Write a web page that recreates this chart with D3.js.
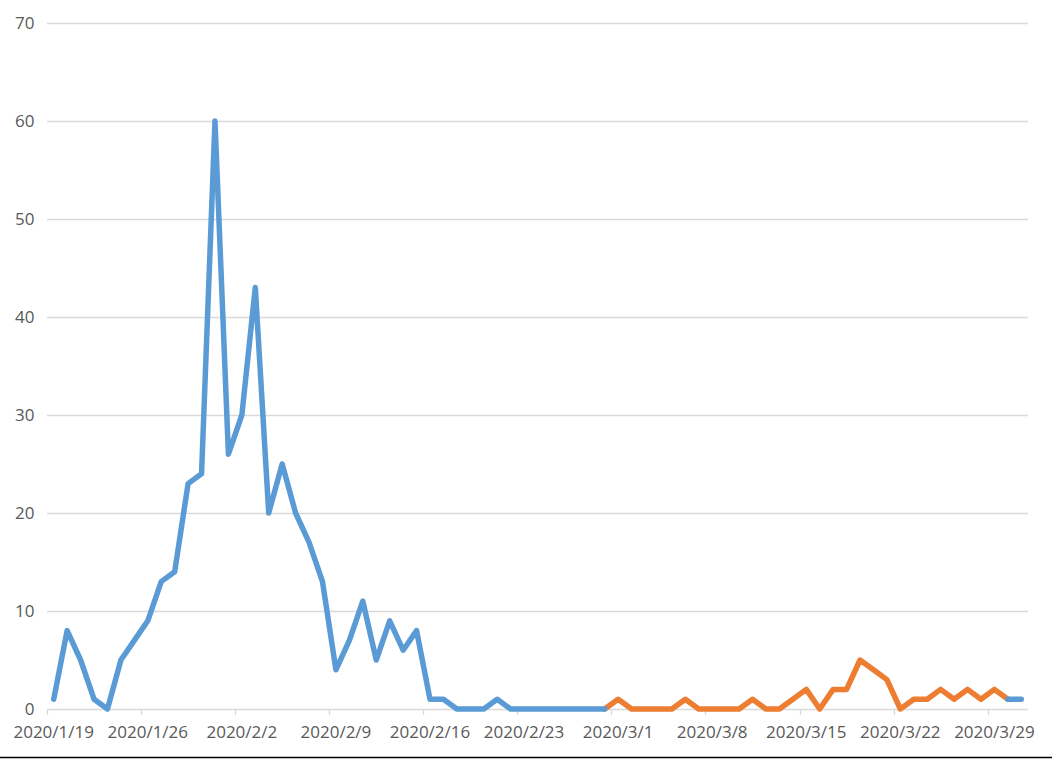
<!DOCTYPE html>
<html>
<head>
<meta charset="utf-8">
<script src="https://cdn.jsdelivr.net/npm/d3@7"></script>
<style>
  html, body { margin: 0; padding: 0; background: #fff; }
  svg { display: block; }
  text { font-family: "Open Sans", "Noto Sans", sans-serif; fill: #595959; }
</style>
</head>
<body>
<svg id="chart" width="1052" height="760"></svg>
<script>
const categories = [
  "2020/1/19","2020/1/20","2020/1/21","2020/1/22","2020/1/23","2020/1/24","2020/1/25",
  "2020/1/26","2020/1/27","2020/1/28","2020/1/29","2020/1/30","2020/1/31","2020/2/1",
  "2020/2/2","2020/2/3","2020/2/4","2020/2/5","2020/2/6","2020/2/7","2020/2/8",
  "2020/2/9","2020/2/10","2020/2/11","2020/2/12","2020/2/13","2020/2/14","2020/2/15",
  "2020/2/16","2020/2/17","2020/2/18","2020/2/19","2020/2/20","2020/2/21","2020/2/22",
  "2020/2/23","2020/2/24","2020/2/25","2020/2/26","2020/2/27","2020/2/28","2020/2/29",
  "2020/3/1","2020/3/2","2020/3/3","2020/3/4","2020/3/5","2020/3/6","2020/3/7",
  "2020/3/8","2020/3/9","2020/3/10","2020/3/11","2020/3/12","2020/3/13","2020/3/14",
  "2020/3/15","2020/3/16","2020/3/17","2020/3/18","2020/3/19","2020/3/20","2020/3/21",
  "2020/3/22","2020/3/23","2020/3/24","2020/3/25","2020/3/26","2020/3/27","2020/3/28",
  "2020/3/29","2020/3/30","2020/3/31"
];

// Blue series (null = no value)
const blueValues = [
  1, 8, 5, 1, 0, 5, 7,
  9, 13, 14, 23, 24, 60, 26,
  30, 43, 20, 25, 20, 17, 13,
  4, 7, 11, 5, 9, 6, 8,
  1, 1, 0, 0, 0, 1, 0,
  0, 0, 0, 0, 0, 0, 0,
  null, null, null, null, null, null, null,
  null, null, null, null, null, null, null,
  null, null, null, null, null, null, null,
  null, null, null, null, null, null, null,
  null, 1, 1
];

// Orange series
const orangeValues = [
  null, null, null, null, null, null, null,
  null, null, null, null, null, null, null,
  null, null, null, null, null, null, null,
  null, null, null, null, null, null, null,
  null, null, null, null, null, null, null,
  null, null, null, null, null, null, 0,
  1, 0, 0, 0, 0, 1, 0,
  0, 0, 0, 1, 0, 0, 1,
  2, 0, 2, 2, 5, 4, 3,
  0, 1, 1, 2, 1, 2, 1,
  2, 1, null
];

const yTicks = [0, 10, 20, 30, 40, 50, 60, 70];
const xLabelEvery = 7;

const svg = d3.select("#chart");
const W = 1052, H = 760;
const margin = { left: 47, right: 24, top: 23, bottom: 51 };
const plotL = margin.left, plotR = W - margin.right;
const plotT = margin.top, plotB = H - margin.bottom;

svg.append("rect").attr("width", W).attr("height", H).attr("fill", "#fff");

const x = d3.scaleBand().domain(categories).range([plotL, plotR]).padding(0);
const y = d3.scaleLinear().domain([0, 70]).range([plotB, plotT]);

// gridlines
svg.append("g")
  .selectAll("line")
  .data(yTicks)
  .join("line")
  .attr("x1", plotL).attr("x2", plotR)
  .attr("y1", d => Math.round(y(d)) + 0.5).attr("y2", d => Math.round(y(d)) + 0.5)
  .attr("stroke", "#d9d9d9").attr("stroke-width", 1.3);

// y labels
svg.append("g")
  .selectAll("text")
  .data(yTicks)
  .join("text")
  .attr("x", 34.5)
  .attr("y", d => y(d))
  .attr("dy", "0.36em")
  .attr("text-anchor", "end")
  .attr("font-size", "17px")
  .text(d => d);

// x ticks at band boundaries every 7 categories
const tickCats = categories.filter((c, i) => i % xLabelEvery === 0);
svg.append("g")
  .selectAll("line")
  .data(tickCats)
  .join("line")
  .attr("x1", d => Math.round(x(d)) + 0.5).attr("x2", d => Math.round(x(d)) + 0.5)
  .attr("y1", plotB).attr("y2", plotB + 6)
  .attr("stroke", "#d9d9d9").attr("stroke-width", 1.3);

// x labels centered on category
svg.append("g")
  .selectAll("text")
  .data(tickCats)
  .join("text")
  .attr("x", d => x(d) + x.bandwidth() / 2)
  .attr("y", plotB + 29)
  .attr("text-anchor", "middle")
  .attr("font-size", "17px")
  .text(d => d);

const line = d3.line()
  .defined(d => d.v !== null)
  .x(d => x(d.c) + x.bandwidth() / 2)
  .y(d => y(d.v));

const orangeData = categories.map((c, i) => ({ c, v: orangeValues[i] }));
const blueData = categories.map((c, i) => ({ c, v: blueValues[i] }));

svg.append("path")
  .datum(orangeData)
  .attr("d", line)
  .attr("fill", "none")
  .attr("stroke", "#ed7d31")
  .attr("stroke-width", 5.5)
  .attr("stroke-linejoin", "round")
  .attr("stroke-linecap", "round");

svg.append("path")
  .datum(blueData)
  .attr("d", line)
  .attr("fill", "none")
  .attr("stroke", "#5b9bd5")
  .attr("stroke-width", 5.5)
  .attr("stroke-linejoin", "round")
  .attr("stroke-linecap", "round");

// bottom border
svg.append("line")
  .attr("x1", 0).attr("x2", W)
  .attr("y1", 757.5).attr("y2", 757.5)
  .attr("stroke", "#000").attr("stroke-width", 1.5);
</script>
</body>
</html>
